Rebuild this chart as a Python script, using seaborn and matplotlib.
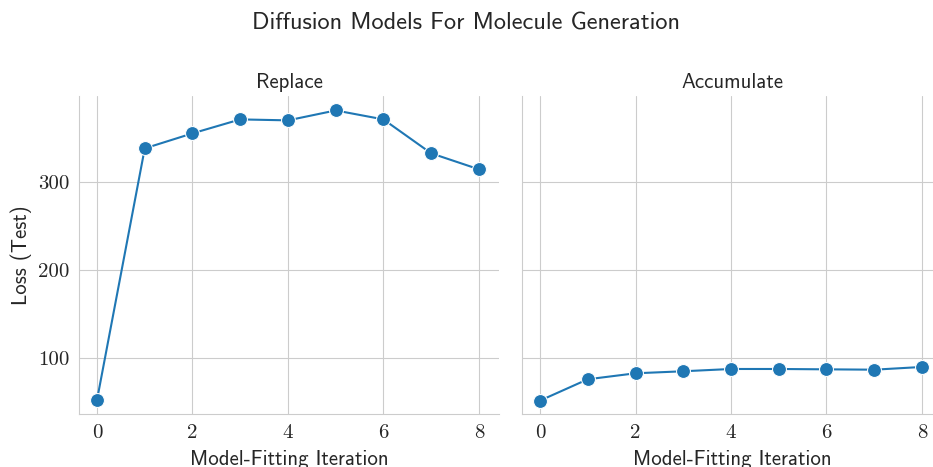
import pandas as pd
import matplotlib.pyplot as plt
import seaborn as sns

iterations = [0, 1, 2, 3, 4, 5, 6, 7, 8]
replace_loss = [52.3, 338.6, 355.7, 371.6, 370.5, 381.8, 371.6, 333.0, 314.8]
accumulate_loss = [51.5, 75.8, 82.6, 84.9, 87.5, 87.5, 87.1, 86.7, 89.8]
settings = ["Replace", "Accumulate"]

df = pd.concat([
    pd.DataFrame({"Model-Fitting Iteration": iterations, "Loss (Test)": replace_loss, "Setting": settings[0]}),
    pd.DataFrame({"Model-Fitting Iteration": iterations, "Loss (Test)": accumulate_loss, "Setting": settings[1]}),
])

sns.set_style("whitegrid")
plt.rcParams["font.family"] = ["cmss10", "DejaVu Sans"]
plt.rcParams["axes.unicode_minus"] = False

g = sns.relplot(data=df, x="Model-Fitting Iteration", y="Loss (Test)", col="Setting",
                kind="line", marker="o", markersize=10, color="#1f77b4",
                height=4.67, aspect=1.0, facet_kws={"sharey": True})
g.figure.set_size_inches(9.33, 4.67)
g.set_titles("{col_name}", size=15)
for ax in g.axes.flat:
    ax.set_xticks([0, 2, 4, 6, 8])
    ax.set_yticks([100, 200, 300])
    ax.set_xlim(-0.377, 8.42)
    ax.set_ylim(36, 398)
    ax.xaxis.label.set_size(15)
    ax.yaxis.label.set_size(15)
    ax.xaxis.labelpad = 6
    for lab in ax.get_xticklabels() + ax.get_yticklabels():
        lab.set_fontfamily("cmr10")
        lab.set_fontsize(15)
    for s in ax.spines.values():
        s.set_color("#cccccc")
g.figure.suptitle("Diffusion Models For Molecule Generation", fontsize=17.5, y=0.973)
g.figure.subplots_adjust(left=0.0847, right=1.0096, bottom=0.113, top=0.794, wspace=0.055)
g.figure.savefig("out.png", dpi=100)
